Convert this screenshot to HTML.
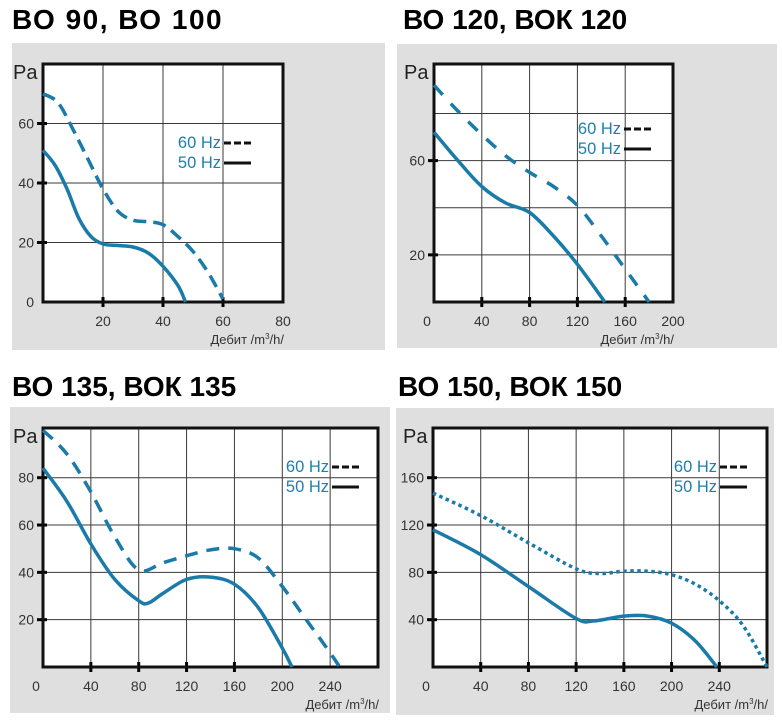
<!DOCTYPE html>
<html><head><meta charset="utf-8">
<style>
html,body{margin:0;padding:0;background:#fff;width:782px;height:726px;overflow:hidden}
.t{position:absolute;font:bold 28px "Liberation Sans",sans-serif;color:#000;white-space:nowrap}
svg{position:absolute;left:0;top:0}
</style></head><body>
<div class="t" style="left:12px;top:4px;letter-spacing:1.5px">ВО 90, ВО 100</div>
<div class="t" style="left:403px;top:4px">ВО 120, ВОК 120</div>
<div class="t" style="left:12px;top:371px">ВО 135, ВОК 135</div>
<div class="t" style="left:398px;top:371px">ВО 150, ВОК 150</div>
<svg id="s" width="782" height="726" xmlns="http://www.w3.org/2000/svg"></svg>
<script>
var S=document.getElementById('s'),h='';
function cr(pts){var d='M'+pts[0][0].toFixed(1)+' '+pts[0][1].toFixed(1);
for(var i=0;i<pts.length-1;i++){var p0=pts[i-1]||pts[i],p1=pts[i],p2=pts[i+1],p3=pts[i+2]||p2;
d+=' C'+(p1[0]+(p2[0]-p0[0])/6).toFixed(1)+' '+(p1[1]+(p2[1]-p0[1])/6).toFixed(1)+' '+(p2[0]-(p3[0]-p1[0])/6).toFixed(1)+' '+(p2[1]-(p3[1]-p1[1])/6).toFixed(1)+' '+p2[0].toFixed(1)+' '+p2[1].toFixed(1);}
return d;}
function panel(c){
var X=function(v){return c.x0+(v-c.xmin)*(c.x1-c.x0)/(c.xmax-c.xmin)},Y=function(v){return c.y0-v*(c.y0-c.y1)/c.ymax};
h+='<rect x="'+c.bx+'" y="'+c.by+'" width="'+c.bw+'" height="'+c.bh+'" fill="#dfdfdf"/>';
h+='<rect x="'+c.x0+'" y="'+c.y1+'" width="'+(c.x1-c.x0)+'" height="'+(c.y0-c.y1)+'" fill="#fff"/>';
c.gx.forEach(function(v){h+='<line x1="'+X(v)+'" x2="'+X(v)+'" y1="'+c.y1+'" y2="'+c.y0+'" stroke="#3a3a3a" stroke-width="1"/>'});
c.gy.forEach(function(v){h+='<line y1="'+Y(v)+'" y2="'+Y(v)+'" x1="'+c.x0+'" x2="'+c.x1+'" stroke="#3a3a3a" stroke-width="1"/>'});
c.tx.forEach(function(v){h+='<line x1="'+X(v)+'" x2="'+X(v)+'" y1="'+(c.y0-5)+'" y2="'+(c.y0+5)+'" stroke="#000" stroke-width="3"/>'});
c.ty.forEach(function(v){h+='<line y1="'+Y(v)+'" y2="'+Y(v)+'" x1="'+(c.x0-6)+'" x2="'+(c.x0+4)+'" stroke="#000" stroke-width="3"/>'});
h+='<rect x="'+c.x0+'" y="'+c.y1+'" width="'+(c.x1-c.x0)+'" height="'+(c.y0-c.y1)+'" fill="none" stroke="#111" stroke-width="3"/>';
var f='font-family="Liberation Sans,sans-serif" font-size="14" fill="#333"';
c.lx.forEach(function(v){h+='<text x="'+(v==0?c.x0-7:X(v))+'" y="'+(c.y0+24)+'" text-anchor="middle" '+f+'>'+v+'</text>'});
c.ly.forEach(function(v){h+='<text x="'+(c.x0-9)+'" y="'+(Y(v)+5)+'" text-anchor="end" '+f+'>'+v+'</text>'});
h+='<text x="'+(c.x0-30)+'" y="'+(c.y1+15)+'" font-family="Liberation Sans,sans-serif" font-size="20" fill="#222">Pa</text>';
h+='<text x="'+(c.x1+1)+'" y="'+(c.y0+42)+'" text-anchor="end" font-family="Liberation Sans,sans-serif" font-size="13" fill="#333">Дебит /m<tspan dy="-5" font-size="8">3</tspan><tspan dy="5">/h/</tspan></text>';
var lf='font-family="Liberation Sans,sans-serif" font-size="16.5" fill="#1d80ad"';
h+='<text x="'+(c.lgx)+'" y="'+c.lgy+'" text-anchor="end" '+lf+'>60 Hz</text>';
h+='<text x="'+(c.lgx)+'" y="'+(c.lgy+20)+'" text-anchor="end" '+lf+'>50 Hz</text>';
h+='<line x1="'+(c.lgx+3)+'" x2="'+(c.lgx+30)+'" y1="'+(c.lgy-5)+'" y2="'+(c.lgy-5)+'" stroke="#111" stroke-width="3" stroke-dasharray="7 3"/>';
h+='<line x1="'+(c.lgx+3)+'" x2="'+(c.lgx+30)+'" y1="'+(c.lgy+15)+'" y2="'+(c.lgy+15)+'" stroke="#111" stroke-width="3"/>';
var m=function(a){return a.map(function(p){return [X(p[0]),Y(p[1])]})};
h+='<path d="'+cr(m(c.a))+'" fill="none" stroke="#1a7ba9" stroke-width="3.5" stroke-dasharray="'+c.dd+'"/>';
h+='<path d="'+cr(m(c.b))+'" fill="none" stroke="#1a7ba9" stroke-width="3.5"/>';
}
panel({bx:12,by:43,bw:373,bh:307,x0:43,x1:283,y1:64,y0:302,xmin:0,xmax:80,ymax:80,gx:[20,40,60],gy:[20,40,60],tx:[20,40,60],ty:[20,40,60],lx:[20,40,60,80],ly:[0,20,40,60],lgx:221,lgy:148,dd:"13 7",
a:[[0,70],[5,67],[10,58],[15,48],[20,38],[25,30.5],[30,27.5],[35,27],[40,26],[45,22],[50,17],[55,10],[60,1]],
b:[[0,51],[4,46],[8,38],[12,28],[16,22],[20,19.5],[25,19],[30,18.5],[35,16.5],[40,12],[45,5.5],[47.5,0]]});
panel({bx:397,by:44,bw:380,bh:304,x0:434,x1:673,y1:64,y0:302,xmin:0,xmax:200,ymax:101,gx:[40,80,120,160],gy:[20,40,60,80],tx:[40,80,120,160],ty:[20,60],lx:[0,40,80,120,160,200],ly:[20,60],lgx:621,lgy:134,dd:"13 12",
a:[[0,92],[20,81],[40,71],[60,62],[80,55],[100,49],[120,41],[140,28],[160,14],[180,0]],
b:[[0,72],[20,60],[40,49],[60,42],[80,38],[100,28],[120,16],[143,0]]});
panel({bx:10,by:407,bw:380,bh:306,x0:43,x1:378,y1:428,y0:667,xmin:0,xmax:280,ymax:101,gx:[40,80,120,160,200,240],gy:[20,40,60,80],tx:[40,80,120,160],ty:[20,40,60,80],lx:[0,40,80,120,160,200,240],ly:[20,40,60,80],lgx:329,lgy:472,dd:"13 9",
a:[[0,100],[20,90],[40,74],[60,55],[80,41],[100,44],[120,47],[140,49.5],[160,50],[180,46],[200,34],[220,20],[240,6],[248,0]],
b:[[0,84],[20,70],[40,52],[60,37],[80,28],[88,27],[100,31],[120,37],[140,38],[160,35],[180,25],[200,8],[208,0]]});
panel({bx:396,by:408,bw:378,bh:307,x0:433,x1:767,y1:428,y0:667,xmin:0,xmax:280,ymax:202,gx:[40,80,120,160,200,240],gy:[40,80,120,160],tx:[40,80,120,160,200,240],ty:[40,80,120,160],lx:[0,40,80,120,160,200,240],ly:[40,80,120,160],lgx:717,lgy:472,dd:"3.5 3.5",
a:[[0,147],[40,128],[80,105],[120,83],[140,79],[160,81],[180,81],[200,78],[220,70],[240,56],[260,35],[280,0]],
b:[[0,116],[40,95],[80,68],[120,41],[135,39],[160,43],[180,43],[200,37],[220,22],[238,0]]});
S.innerHTML=h;
</script>
</body></html>
